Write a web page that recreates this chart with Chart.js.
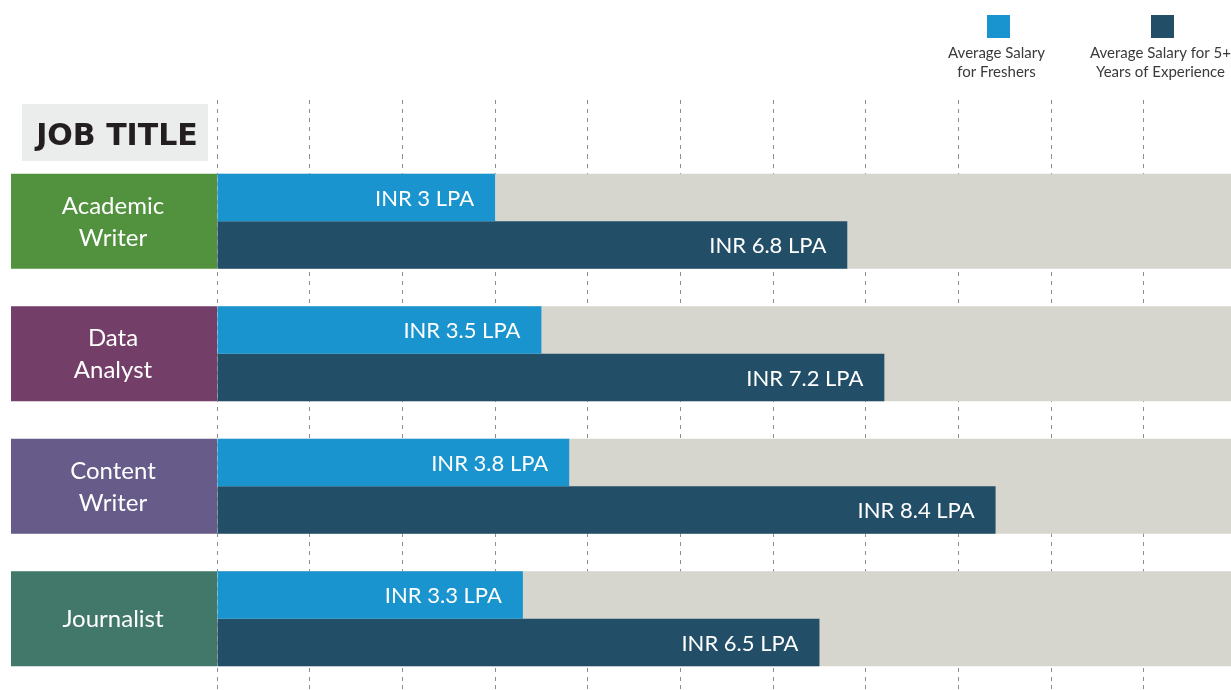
<!DOCTYPE html>
<html>
<head>
<meta charset="utf-8">
<title>Average Salary by Job Title</title>
<script src="https://cdn.jsdelivr.net/npm/chart.js@4.4.1/dist/chart.umd.min.js"></script>
<style>
  html, body { margin: 0; padding: 0; background: #ffffff; }
  #wrap { position: relative; width: 1231px; height: 690px; }
</style>
</head>
<body>
<div id="wrap"><canvas id="salaryChart"></canvas></div>
<script>
// ---- data ----
const jobTitles = [['Academic', 'Writer'], ['Data', 'Analyst'], ['Content', 'Writer'], ['Journalist']];
const fresherSalary = [3, 3.5, 3.8, 3.3];
const seniorSalary = [6.8, 7.2, 8.4, 6.5];
const trackValues = [10.94, 10.94, 10.94, 10.94];
const axisMax = 10.94;
const seriesNames = [['Average Salary', 'for Freshers'], ['Average Salary for 5+', 'Years of Experience']];
const headerText = 'JOB TITLE';

// ---- colours ----
const fresherColor = '#1a94cf';
const seniorColor = '#224e68';
const trackColor = '#d6d6cf';
const rowColors = ['#52923f', '#733f69', '#665b89', '#42786a'];
const gridColor = '#8e8e8e';

// 棒の中の金額ラベル
const valueLabels = {
  id: 'valueLabels',
  afterDatasetsDraw(chart) {
    const ctx = chart.ctx;
    ctx.save();
    ctx.font = '22px Lato';
    ctx.fillStyle = '#ffffff';
    ctx.textAlign = 'right';
    ctx.textBaseline = 'alphabetic';
    [0, 1].forEach(di => {
      chart.getDatasetMeta(di).data.forEach((bar, i) => {
        const v = chart.data.datasets[di].data[i];
        ctx.fillText(`INR ${v} LPA`, bar.x - 21, bar.y + 8);
      });
    });
    ctx.restore();
  },
};

// 左の職種ボックス・見出し・凡例
const sideDecor = {
  id: 'sideDecor',
  afterDraw(chart) {
    const ctx = chart.ctx;
    const left = 11;
    const right = chart.chartArea.left;
    const cx = (left + right) / 2 - 1;
    ctx.save();

    chart.getDatasetMeta(2).data.forEach((bar, i) => {
      const top = bar.y - bar.height / 2;
      ctx.fillStyle = rowColors[i];
      ctx.fillRect(left, top, right - left, bar.height);
      const lines = jobTitles[i];
      ctx.fillStyle = '#ffffff';
      ctx.font = '24px Lato';
      ctx.textAlign = 'center';
      ctx.textBaseline = 'alphabetic';
      lines.forEach((t, k) => {
        ctx.fillText(t, cx, bar.y + (k - (lines.length - 1) / 2) * 32 + 8.5);
      });
    });

    // JOB TITLE
    ctx.fillStyle = '#ebecec';
    ctx.fillRect(22, 104, 186, 57);
    ctx.fillStyle = '#231f20';
    ctx.font = 'bold 30px "DejaVu Sans"';
    ctx.textAlign = 'center';
    ctx.fillText(headerText, 117, 145);

    // legend
    const legendX = [998.5, 1162.5];
    ctx.font = '15px Lato';
    chart.data.datasets.slice(0, 2).forEach((ds, i) => {
      ctx.fillStyle = ds.backgroundColor;
      ctx.fillRect(legendX[i] - 11.5, 15, 23, 23);
      ctx.fillStyle = '#3a3a3a';
      seriesNames[i].forEach((t, k) => {
        ctx.fillText(t, legendX[i] - 2, 58 + k * 19);
      });
    });
    ctx.restore();
  },
};

const gridStyle = {
  color: gridColor,
  lineWidth: 1,
  tickColor: gridColor,
  tickBorderDash: [4, 5],
  tickWidth: 1,
};

new Chart(document.getElementById('salaryChart').getContext('2d'), {
  type: 'bar',
  data: {
    labels: jobTitles,
    datasets: [
      {
        label: seriesNames[0].join(' '),
        data: fresherSalary,
        backgroundColor: fresherColor,
        order: 1,
      },
      {
        label: seriesNames[1].join(' '),
        data: seniorSalary,
        backgroundColor: seniorColor,
        order: 1,
      },
      {
        label: 'track',
        data: trackValues,
        backgroundColor: trackColor,
        grouped: false,
        order: 5,
      },
    ],
  },
  options: {
    indexAxis: 'y',
    responsive: true,
    maintainAspectRatio: false,
    animation: false,
    layout: { padding: { left: 217, right: 0, top: 100, bottom: 0 } },
    datasets: {
      bar: { categoryPercentage: 95 / 132.5, barPercentage: 1, borderWidth: 0 },
    },
    plugins: {
      legend: { display: false },
      tooltip: { enabled: false },
    },
    scales: {
      x: {
        type: 'linear',
        position: 'top',
        min: 0,
        max: axisMax,
        ticks: { display: false, stepSize: 1, includeBounds: false },
        border: { display: false, dash: [4, 5] },
        grid: Object.assign({ drawTicks: true, tickLength: 55 }, gridStyle),
      },
      xb: {
        type: 'linear',
        position: 'bottom',
        min: 0,
        max: axisMax,
        ticks: { display: false, stepSize: 1, includeBounds: false },
        border: { display: false, dash: [4, 5] },
        grid: Object.assign({ drawOnChartArea: false, drawTicks: true, tickLength: 5 }, gridStyle),
      },
      y: {
        display: false,
      },
    },
  },
  plugins: [valueLabels, sideDecor],
});
</script>
</body>
</html>
